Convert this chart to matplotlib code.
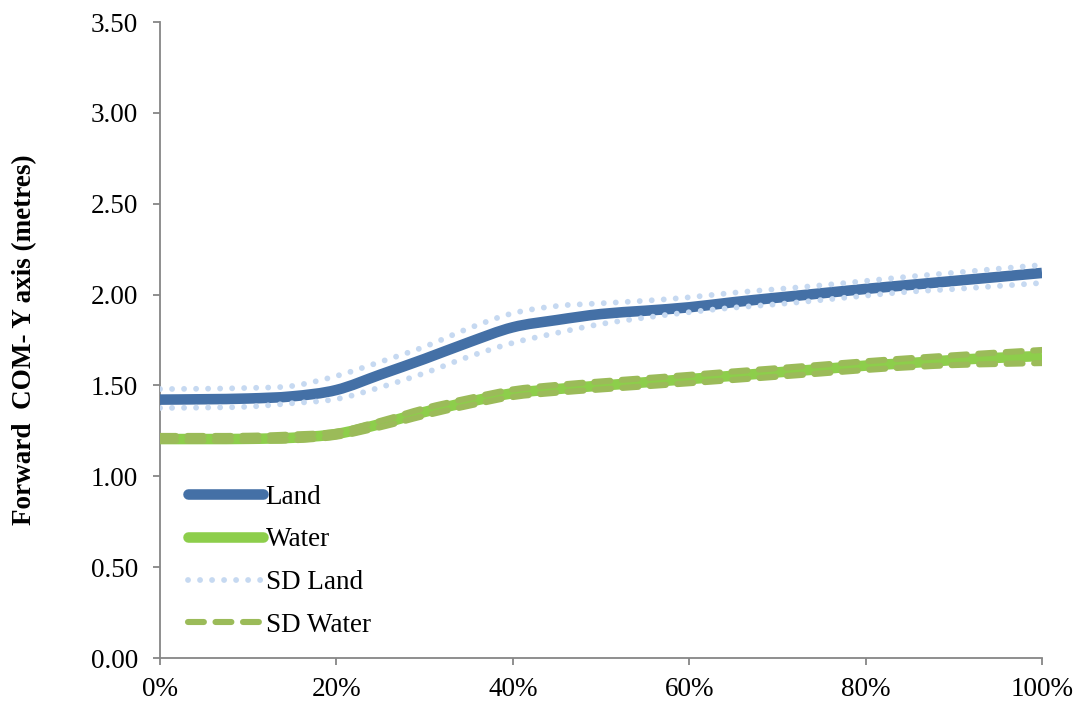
import matplotlib
matplotlib.use('Agg')
import matplotlib.pyplot as plt
from matplotlib.path import Path
from matplotlib.patches import PathPatch
from matplotlib.lines import Line2D
import numpy as np

plt.rcParams['font.family'] = ['Liberation Serif', 'DejaVu Serif']

# gait cycle (% of cycle), sampled every 5%
cycle = [0, 5, 10, 15, 20, 25, 30, 35, 40, 45, 50, 55, 60, 65, 70, 75, 80, 85, 90, 95, 100]

land = [1.422, 1.424, 1.428, 1.440, 1.475, 1.560, 1.646, 1.737, 1.820, 1.860, 1.893,
        1.911, 1.930, 1.958, 1.983, 2.007, 2.031, 2.053, 2.075, 2.097, 2.119]
water = [1.205, 1.205, 1.206, 1.212, 1.233, 1.288, 1.354, 1.409, 1.457, 1.480, 1.499,
         1.517, 1.535, 1.553, 1.572, 1.590, 1.609, 1.623, 1.640, 1.652, 1.662]

sd_land_hi = [1.480, 1.482, 1.486, 1.497, 1.552, 1.630, 1.713, 1.814, 1.897, 1.937, 1.952,
              1.966, 1.985, 2.010, 2.030, 2.051, 2.075, 2.099, 2.120, 2.142, 2.163]
sd_land_lo = [1.376, 1.378, 1.383, 1.402, 1.425, 1.490, 1.568, 1.658, 1.734, 1.789, 1.838,
              1.873, 1.903, 1.928, 1.947, 1.970, 1.994, 2.016, 2.030, 2.047, 2.064]
sd_water_hi = [1.222, 1.222, 1.223, 1.230, 1.245, 1.305, 1.375, 1.430, 1.478, 1.503, 1.522,
               1.540, 1.558, 1.577, 1.595, 1.614, 1.633, 1.650, 1.666, 1.681, 1.695]
sd_water_lo = [1.195, 1.195, 1.196, 1.198, 1.218, 1.270, 1.333, 1.388, 1.436, 1.460, 1.478,
               1.495, 1.512, 1.530, 1.548, 1.566, 1.585, 1.600, 1.612, 1.618, 1.623]

x_ticks = [0, 20, 40, 60, 80, 100]
x_labels = ['0%', '20%', '40%', '60%', '80%', '100%']
y_ticks = [0.0, 0.5, 1.0, 1.5, 2.0, 2.5, 3.0, 3.5]
y_labels = ['0.00', '0.50', '1.00', '1.50', '2.00', '2.50', '3.00', '3.50']

c_land = '#4470a6'
c_water = '#8dce4b'
c_sd_land = '#c6d9f1'
c_sd_water = '#9bbb59'


def smooth_path(x, y):
    # smoothed-line path: cubic bezier segments through every point (catmull-rom tangents)
    x = np.asarray(x, float)
    y = np.asarray(y, float)
    px = np.concatenate([[x[0]], x, [x[-1]]])
    py = np.concatenate([[y[0]], y, [y[-1]]])
    verts = [(x[0], y[0])]
    codes = [Path.MOVETO]
    for i in range(1, len(x)):
        c1 = (px[i] + (px[i + 1] - px[i - 1]) / 6, py[i] + (py[i + 1] - py[i - 1]) / 6)
        c2 = (px[i + 1] - (px[i + 2] - px[i]) / 6, py[i + 1] - (py[i + 2] - py[i]) / 6)
        verts += [c1, c2, (x[i], y[i])]
        codes += [Path.CURVE4] * 3
    return Path(verts, codes)


fig = plt.figure(figsize=(10.82, 7.06), dpi=100)
ax = fig.add_axes([160 / 1082, 1 - 658 / 706, 882 / 1082, 636 / 706])

solid = dict(lw=7.6, capstyle='butt', fill=False, zorder=3)
dot = dict(color=c_sd_land, lw=4.2, linestyle=(0, (0.01, 2.05)))
dash = dict(color=c_sd_water, lw=4.4, linestyle=(0, (2.6, 1.9)))

ax.add_patch(PathPatch(smooth_path(cycle, land), edgecolor=c_land, **solid))
ax.add_patch(PathPatch(smooth_path(cycle, water), edgecolor=c_water, **solid))
for s in [sd_land_hi, sd_land_lo]:
    ax.add_patch(PathPatch(smooth_path(cycle, s), fill=False,
                           edgecolor=dot['color'], lw=dot['lw'], linestyle=dot['linestyle'],
                           capstyle='round', zorder=4))
for s in [sd_water_hi, sd_water_lo]:
    ax.add_patch(PathPatch(smooth_path(cycle, s), fill=False,
                           edgecolor=dash['color'], lw=dash['lw'], linestyle=dash['linestyle'],
                           capstyle='round', zorder=4))

ax.set_xlim(0, 100)
ax.set_ylim(0, 3.5)
ax.set_xticks(x_ticks)
ax.set_xticklabels(x_labels)
ax.set_yticks(y_ticks)
ax.set_yticklabels(y_labels)
ax.tick_params(axis='both', labelsize=19.5, direction='out', length=5, width=1.3,
               color='#868686', labelcolor='black')
ax.tick_params(axis='y', pad=11)
ax.tick_params(axis='x', pad=9)

for side in ['top', 'right']:
    ax.spines[side].set_visible(False)
for side in ['left', 'bottom']:
    ax.spines[side].set_color('#868686')
    ax.spines[side].set_linewidth(1.3)

ax.set_ylabel('Forward  COM- Y axis (metres)', fontsize=19.5, fontweight='bold', labelpad=38)

handles = [
    Line2D([], [], color=c_land, lw=7.6, solid_capstyle='round'),
    Line2D([], [], color=c_water, lw=7.6, solid_capstyle='round'),
    Line2D([], [], color=c_sd_land, lw=4.2, dashes=(0.01, 2.05), dash_capstyle='round'),
    Line2D([], [], color=c_sd_water, lw=4.4, dashes=(2.6, 1.9), dash_capstyle='round'),
]
ax.legend(handles, ['Land', 'Water', 'SD Land', 'SD Water'], loc='lower left',
          bbox_to_anchor=(0.02, 0.015), frameon=False, fontsize=19.5,
          handlelength=2.75, handletextpad=0.1, labelspacing=0.65, borderaxespad=0)

fig.savefig('out.png', dpi=100)
